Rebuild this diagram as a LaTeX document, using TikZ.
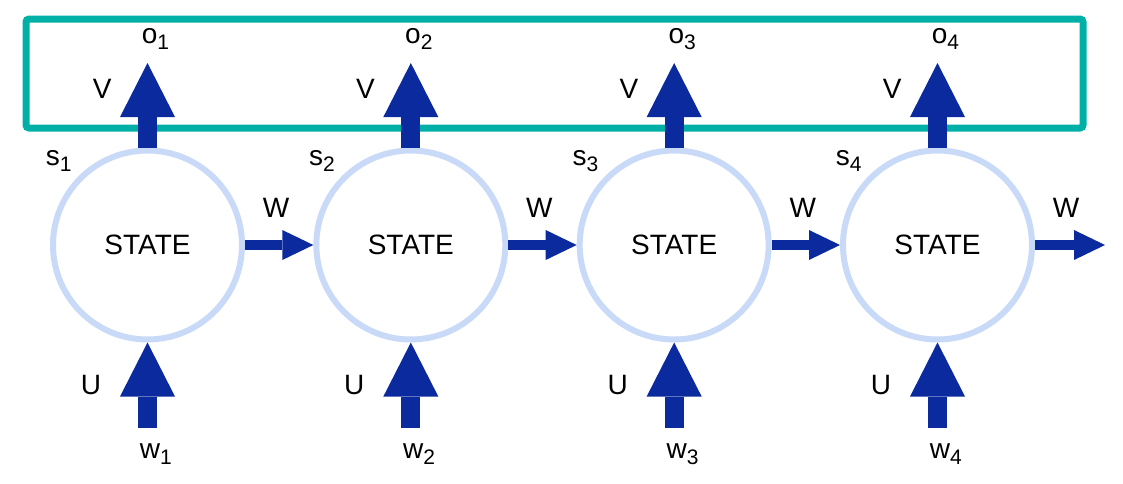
\documentclass[tikz,border=0pt]{standalone}
\usepackage{fontspec}
\setmainfont{Liberation Sans}
\usetikzlibrary{positioning,arrows.meta}
\definecolor{ringblue}{HTML}{C9DAF8}
\definecolor{arrowblue}{HTML}{0A2A9E}
\definecolor{frameteal}{HTML}{00B0A6}
\newcommand{\lsub}[1]{\raisebox{-3pt}{\fontsize{10.5}{12}\selectfont #1}}
\tikzset{
  statecirc/.style={shape=circle,draw=ringblue,line width=3pt,fill=white,
    minimum size=94.5pt,inner sep=0pt,font=\fontsize{14}{16}\selectfont},
  lbl/.style={anchor=base west,inner sep=0pt,font=\fontsize{14}{16}\selectfont},
  fatup/.style={draw=arrowblue,line width=9.5pt,
    -{Triangle[length=27pt,width=27.5pt,line width=0pt 0 0]}},
  fatright/.style={draw=arrowblue,line width=5pt,
    -{Triangle[length=15.5pt,width=15pt,line width=0pt 0 0]}},
  outbox/.style={draw=frameteal,line width=3.5pt,rounded corners=1.5pt}
}

\begin{document}
\begin{tikzpicture}[x=0.5pt,y=-0.5pt]
  \useasboundingbox (0,0) rectangle (1123,483);
  \draw[outbox] (26,19) rectangle (1083,128);
  \foreach \i in {1,...,4}{
    \pgfmathsetmacro{\cx}{147.5+263.33*(\i-1)}
    \node (st\i) [statecirc] at (\cx,245) {STATE};
    \coordinate (out\i) at (\cx,63);
    \coordinate (in\i) at (\cx,428);
    \node (o\i) [lbl] at (\cx-6,43) {o\lsub{\i}};
    \node (v\i) [lbl] at (\cx-55,98) {V};
    \node (s\i) [lbl] at (\cx-102,165) {s\lsub{\i}};
    \node (wl\i) [lbl] at (\cx+115,217) {W};
    \node (u\i) [lbl] at (\cx-67,394) {U};
    \node (w\i) [lbl] at (\cx-8,458) {w\lsub{\i}};
    \draw[fatup] (st\i.north) -- (out\i);
    \draw[fatup] (in\i) -- (st\i.south);
  }
  \coordinate (wend) at (1105,245);
  \draw[fatright] (st1) -- (st2);
  \draw[fatright] (st2) -- (st3);
  \draw[fatright] (st3) -- (st4);
  \draw[fatright] (st4) -- (wend);
\end{tikzpicture}
\end{document}
